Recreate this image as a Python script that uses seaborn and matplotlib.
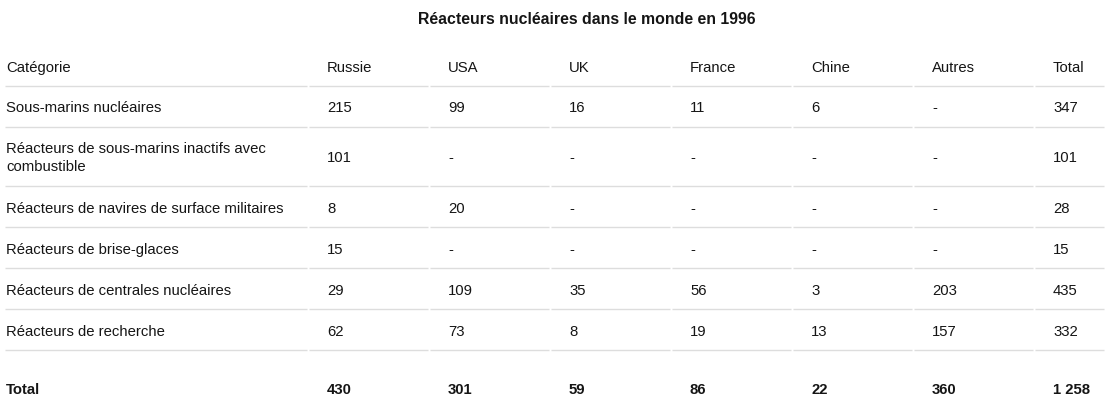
import matplotlib
matplotlib.use("Agg")
import matplotlib.pyplot as plt
import seaborn as sns

# Données du tableau
titre = "Réacteurs nucléaires dans le monde en 1996"
colonnes = ["Catégorie", "Russie", "USA", "UK", "France", "Chine", "Autres", "Total"]
categories = [
    "Sous-marins nucléaires",
    "Réacteurs de sous-marins inactifs avec\ncombustible",
    "Réacteurs de navires de surface militaires",
    "Réacteurs de brise-glaces",
    "Réacteurs de centrales nucléaires",
    "Réacteurs de recherche",
]
russie = ["215", "101", "8", "15", "29", "62"]
usa = ["99", "-", "20", "-", "109", "73"]
uk = ["16", "-", "-", "-", "35", "8"]
france = ["11", "-", "-", "-", "56", "19"]
chine = ["6", "-", "-", "-", "3", "13"]
autres = ["-", "-", "-", "-", "203", "157"]
total = ["347", "101", "28", "15", "435", "332"]
ligne_total = ["Total", "430", "301", "59", "86", "22", "360", "1 258"]

sns.set_theme(style="white")
plt.rcParams["font.family"] = ["Liberation Sans", "DejaVu Sans"]

fig = plt.figure(figsize=(11.06, 4.18), dpi=100)
ax = fig.add_axes([0, 0, 1, 1])
ax.set_xlim(0, 1106)
ax.set_ylim(418, 0)
ax.axis("off")

couleur_texte = "#151515"
couleur_ligne = "#dddddd"
taille = 10.7

# positions en pixels
x_texte = [6] + [327 + 121 * k for k in range(7)]
x_bords = [(5, 307)] + [(309 + 121 * k, 428 + 121 * k) for k in range(6)] + [(1035, 1104)]
y_lignes = [68, 108, 158, 209, 250, 291, 332]
y_sep = [86, 127, 186, 227, 268, 309, 350]
y_total = 390

ax.text(587, 20, titre, ha="center", va="center", fontsize=11.4,
        fontweight="bold", color=couleur_texte)

for x, c in zip(x_texte, colonnes):
    ax.text(x, y_lignes[0], c, ha="left", va="center", fontsize=taille, color=couleur_texte)

valeurs = list(zip(russie, usa, uk, france, chine, autres, total))
for i, cat in enumerate(categories):
    y = y_lignes[i + 1]
    ax.text(x_texte[0], y, cat, ha="left", va="center", fontsize=taille,
            color=couleur_texte, linespacing=1.38)
    for x, v in zip(x_texte[1:], valeurs[i]):
        ax.text(x, y, v, ha="left", va="center", fontsize=taille, color=couleur_texte)

for x, v in zip(x_texte, ligne_total):
    ax.text(x, y_total, v, ha="left", va="center", fontsize=taille,
            fontweight="bold", color=couleur_texte)

for y in y_sep:
    for x0, x1 in x_bords:
        ax.hlines(y, x0, x1, color=couleur_ligne, linewidth=1)

fig.savefig("out.png", dpi=100)
